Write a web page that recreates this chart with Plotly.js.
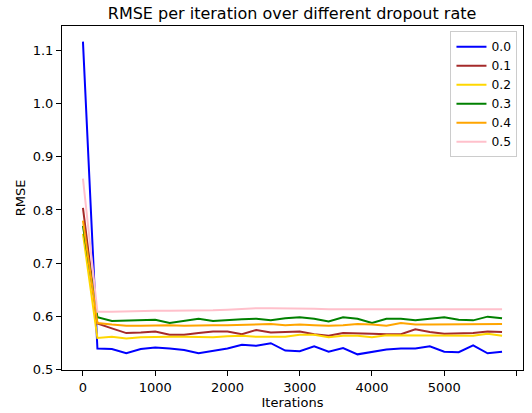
<!DOCTYPE html>
<html>
<head>
<meta charset="utf-8">
<script src="https://cdn.plot.ly/plotly-3.0.1.min.js"></script>
<style>html,body{margin:0;padding:0;background:#fff;}#chart{width:532px;height:413px;}</style>
</head>
<body>
<div id="chart"></div>
<script>
// Iterations (every 200 steps)
const iterations = [0,200,400,600,800,1000,1200,1400,1600,1800,2000,2200,2400,2600,2800,3000,3200,3400,3600,3800,4000,4200,4400,4600,4800,5000,5200,5400,5600,5800];

const dropoutLabels = ["0.0","0.1","0.2","0.3","0.4","0.5"];

const rmse00 = [1.117,0.539,0.538,0.530,0.538,0.541,0.539,0.536,0.530,0.535,0.539,0.546,0.544,0.549,0.535,0.534,0.543,0.533,0.540,0.528,0.533,0.537,0.539,0.539,0.543,0.533,0.532,0.545,0.530,0.533];
const rmse01 = [0.804,0.586,0.577,0.568,0.569,0.571,0.565,0.565,0.568,0.571,0.571,0.566,0.574,0.569,0.570,0.571,0.566,0.563,0.568,0.568,0.567,0.566,0.566,0.575,0.570,0.567,0.567,0.568,0.571,0.570];
const rmse02 = [0.755,0.559,0.561,0.558,0.560,0.561,0.561,0.561,0.560,0.560,0.562,0.563,0.561,0.561,0.561,0.565,0.565,0.560,0.563,0.563,0.560,0.564,0.564,0.563,0.563,0.564,0.564,0.563,0.567,0.563];
const rmse03 = [0.770,0.598,0.591,0.592,0.592,0.593,0.587,0.591,0.595,0.591,0.593,0.594,0.595,0.592,0.596,0.598,0.595,0.590,0.598,0.595,0.587,0.595,0.595,0.592,0.595,0.598,0.593,0.592,0.599,0.596];
const rmse04 = [0.780,0.587,0.584,0.582,0.582,0.583,0.583,0.582,0.583,0.583,0.583,0.584,0.585,0.585,0.583,0.584,0.583,0.582,0.583,0.585,0.584,0.582,0.587,0.584,0.584,0.584,0.585,0.585,0.585,0.585];
const rmse05 = [0.859,0.608,0.608,0.609,0.609,0.610,0.610,0.610,0.611,0.611,0.612,0.614,0.615,0.615,0.615,0.615,0.614,0.613,0.613,0.613,0.614,0.614,0.613,0.613,0.614,0.614,0.613,0.613,0.613,0.613];

const series = [rmse00, rmse01, rmse02, rmse03, rmse04, rmse05];
const colors = ["#0000ff","#a52a2a","#ffd700","#008000","#ffa500","#ffc0cb"];

const traces = series.map((ys, k) => ({
  x: iterations,
  y: ys,
  type: "scatter",
  mode: "lines",
  name: dropoutLabels[k],
  line: {color: colors[k], width: 2}
}));

const font = "DejaVu Sans, sans-serif";

const layout = {
  width: 532,
  height: 413,
  margin: {l: 62, r: 9, t: 26, b: 43, pad: 0},
  paper_bgcolor: "#ffffff",
  plot_bgcolor: "#ffffff",
  font: {family: font, size: 13, color: "#000000"},
  title: {
    text: "RMSE per iteration over different dropout rate",
    font: {family: font, size: 16, color: "#000000"},
    x: 0.549, xanchor: "center", xref: "container",
    y: 1 - 13/413, yanchor: "middle", yref: "container"
  },
  showlegend: true,
  legend: {
    x: 0.988, xanchor: "right", y: 0.985, yanchor: "top",
    bordercolor: "#cccccc", borderwidth: 1, bgcolor: "rgba(255,255,255,0.8)",
    font: {family: font, size: 12.3, color: "#000000"},
    itemwidth: 30
  },
  xaxis: {
    range: [-290, 6090],
    tickvals: [0,1000,2000,3000,4000,5000,6000],
    ticktext: ["0","1000","2000","3000","4000","5000","6000"],
    ticks: "outside", ticklen: 5, tickwidth: 1, tickcolor: "#000",
    showline: true, linecolor: "#000", linewidth: 1, mirror: true,
    showgrid: false, zeroline: false,
    tickfont: {family: font, size: 13},
    title: {text: "Iterations", font: {family: font, size: 13}, standoff: 4}
  },
  yaxis: {
    range: [0.4985, 1.1465],
    tickvals: [0.5,0.6,0.7,0.8,0.9,1.0,1.1],
    ticktext: ["0.5","0.6","0.7","0.8","0.9","1.0","1.1"],
    ticks: "outside", ticklen: 5, tickwidth: 1, tickcolor: "#000",
    showline: true, linecolor: "#000", linewidth: 1, mirror: true,
    showgrid: false, zeroline: false,
    tickfont: {family: font, size: 13},
    title: {text: "RMSE", font: {family: font, size: 13}, standoff: 4}
  }
};

Plotly.newPlot("chart", traces, layout, {displayModeBar: false, staticPlot: true});
</script>
</body>
</html>
